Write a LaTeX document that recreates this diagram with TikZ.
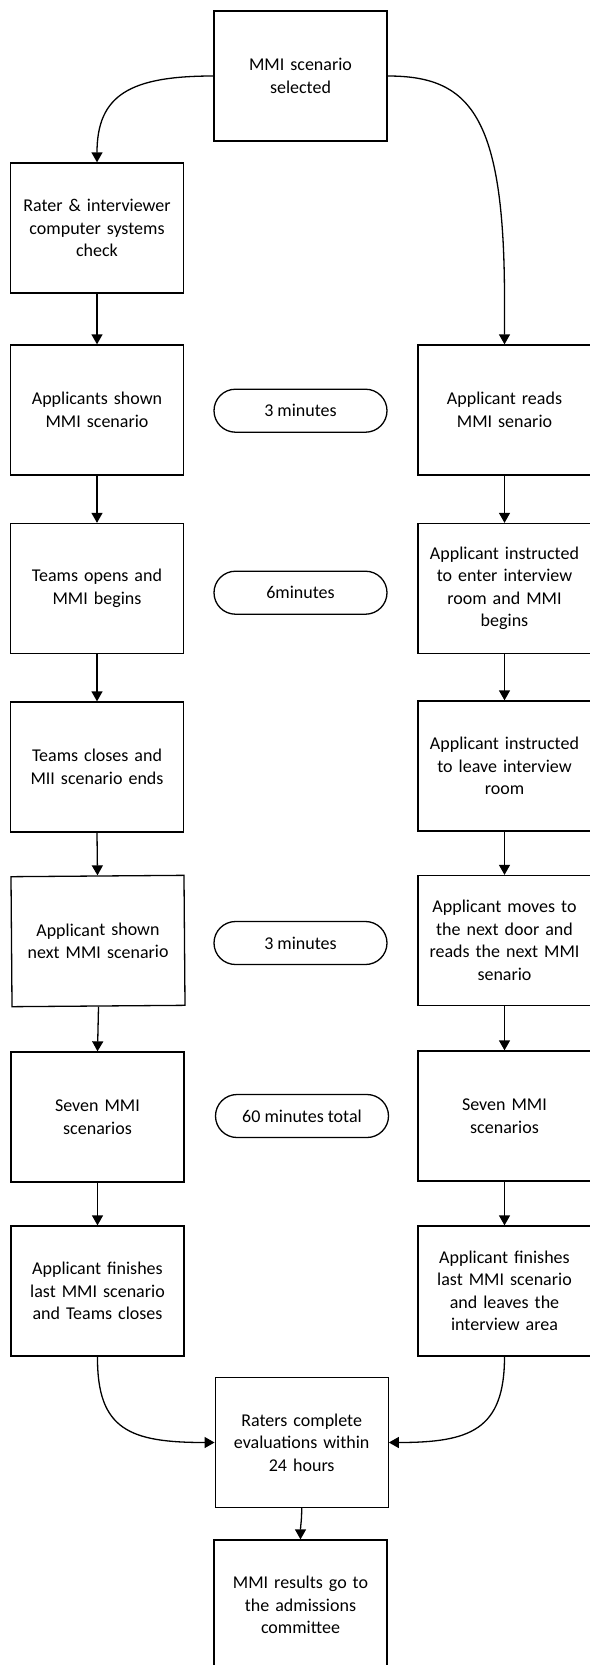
\documentclass[tikz,border=0pt]{standalone}
\usepackage{fontspec}
\setmainfont{Carlito}
\usetikzlibrary{arrows.meta}
\begin{document}
\begin{tikzpicture}[x=1pt,y=-1pt,
  box/.style={draw=black,line width=1.3pt,minimum width=173pt,minimum height=130pt,
    inner sep=0pt,text width=170pt,align=center,
    font=\fontsize{18}{22.5}\selectfont},
  pill/.style={draw=black,line width=1.3pt,minimum width=173pt,minimum height=43pt,
    inner sep=0pt,rounded corners=21.5pt,align=center,
    font=\fontsize{18}{22.5}\selectfont},
  conn/.style={line width=1.3pt,-{Triangle[length=10pt,width=11pt]}}]
\useasboundingbox (0,0) rectangle (589,1665);
% middle
\node[box] (top) at (300.5,76) {MMI scenario\\selected};
% left column
\node[box] (l1) at (97,228) {Rater \& interviewer\\computer systems\\check};
\node[box] (l2) at (97,410) {Applicants shown\\MMI scenario};
\node[box] (l3) at (97,588.5) {Teams opens and\\MMI begins};
\node[box] (l4) at (97,767) {Teams closes and\\MII scenario ends};
\node[box,rotate=0.45] (l5) at (98,941) {Applicant shown\\next MMI scenario};
\node[box] (l6) at (97.5,1117) {Seven MMI\\scenarios};
\node[box] (l7) at (97.5,1291) {Applicant finishes\\last MMI scenario\\and Teams closes};
% right column
\node[box] (r2) at (504.5,410) {Applicant reads\\MMI senario};
\node[box] (r3) at (504.5,588.5) {Applicant instructed\\to enter interview\\room and MMI\\begins};
\node[box] (r4) at (504.5,766) {Applicant instructed\\to leave interview\\room};
\node[box] (r5) at (504.5,940.5) {Applicant moves to\\the next door and\\reads the next MMI\\senario};
\node[box] (r6) at (504.5,1116) {Seven MMI\\scenarios};
\node[box] (r7) at (504.5,1291) {Applicant finishes\\last MMI scenario\\and leaves the\\interview area};
% pills
\node[pill] (p1) at (300.5,410.7) {3 minutes};
\node[pill] (p2) at (300.5,592.7) {6minutes};
\node[pill] (p3) at (300.5,943) {3 minutes};
\node[pill] (p4) at (302,1116) {60 minutes total};
% bottom
\node[box] (rt) at (301.7,1442.5) {Raters complete\\evaluations within\\24 hours};
\node[box] (fin) at (300.5,1605) {MMI results go to\\the admissions\\committee};
% connectors
\draw[conn] (top.west) .. controls (130,76) and (97,95) .. (l1.north);
\draw[conn] (top.east) .. controls (470,76) and (504.5,115) .. (504.5,300) -- (r2.north);
\draw[conn] (l1) -- (l2);
\draw[conn] (l2) -- (l3);
\draw[conn] (l3) -- (l4);
\draw[conn] (l4.south) -- (l5.north);
\draw[conn] (l5.south) -- (l6.north);
\draw[conn] (l6) -- (l7);
\draw[conn] (r2) -- (r3);
\draw[conn] (r3) -- (r4);
\draw[conn] (r4) -- (r5);
\draw[conn] (r5) -- (r6);
\draw[conn] (r6) -- (r7);
\draw[conn] (l7.south) .. controls (97,1430) and (130,1442.5) .. (rt.west);
\draw[conn] (r7.south) .. controls (504.5,1430) and (470,1442.5) .. (rt.east);
\draw[conn] (rt.south) .. controls (301.7,1522) and (300.5,1525) .. (fin.north);
\end{tikzpicture}
\end{document}
